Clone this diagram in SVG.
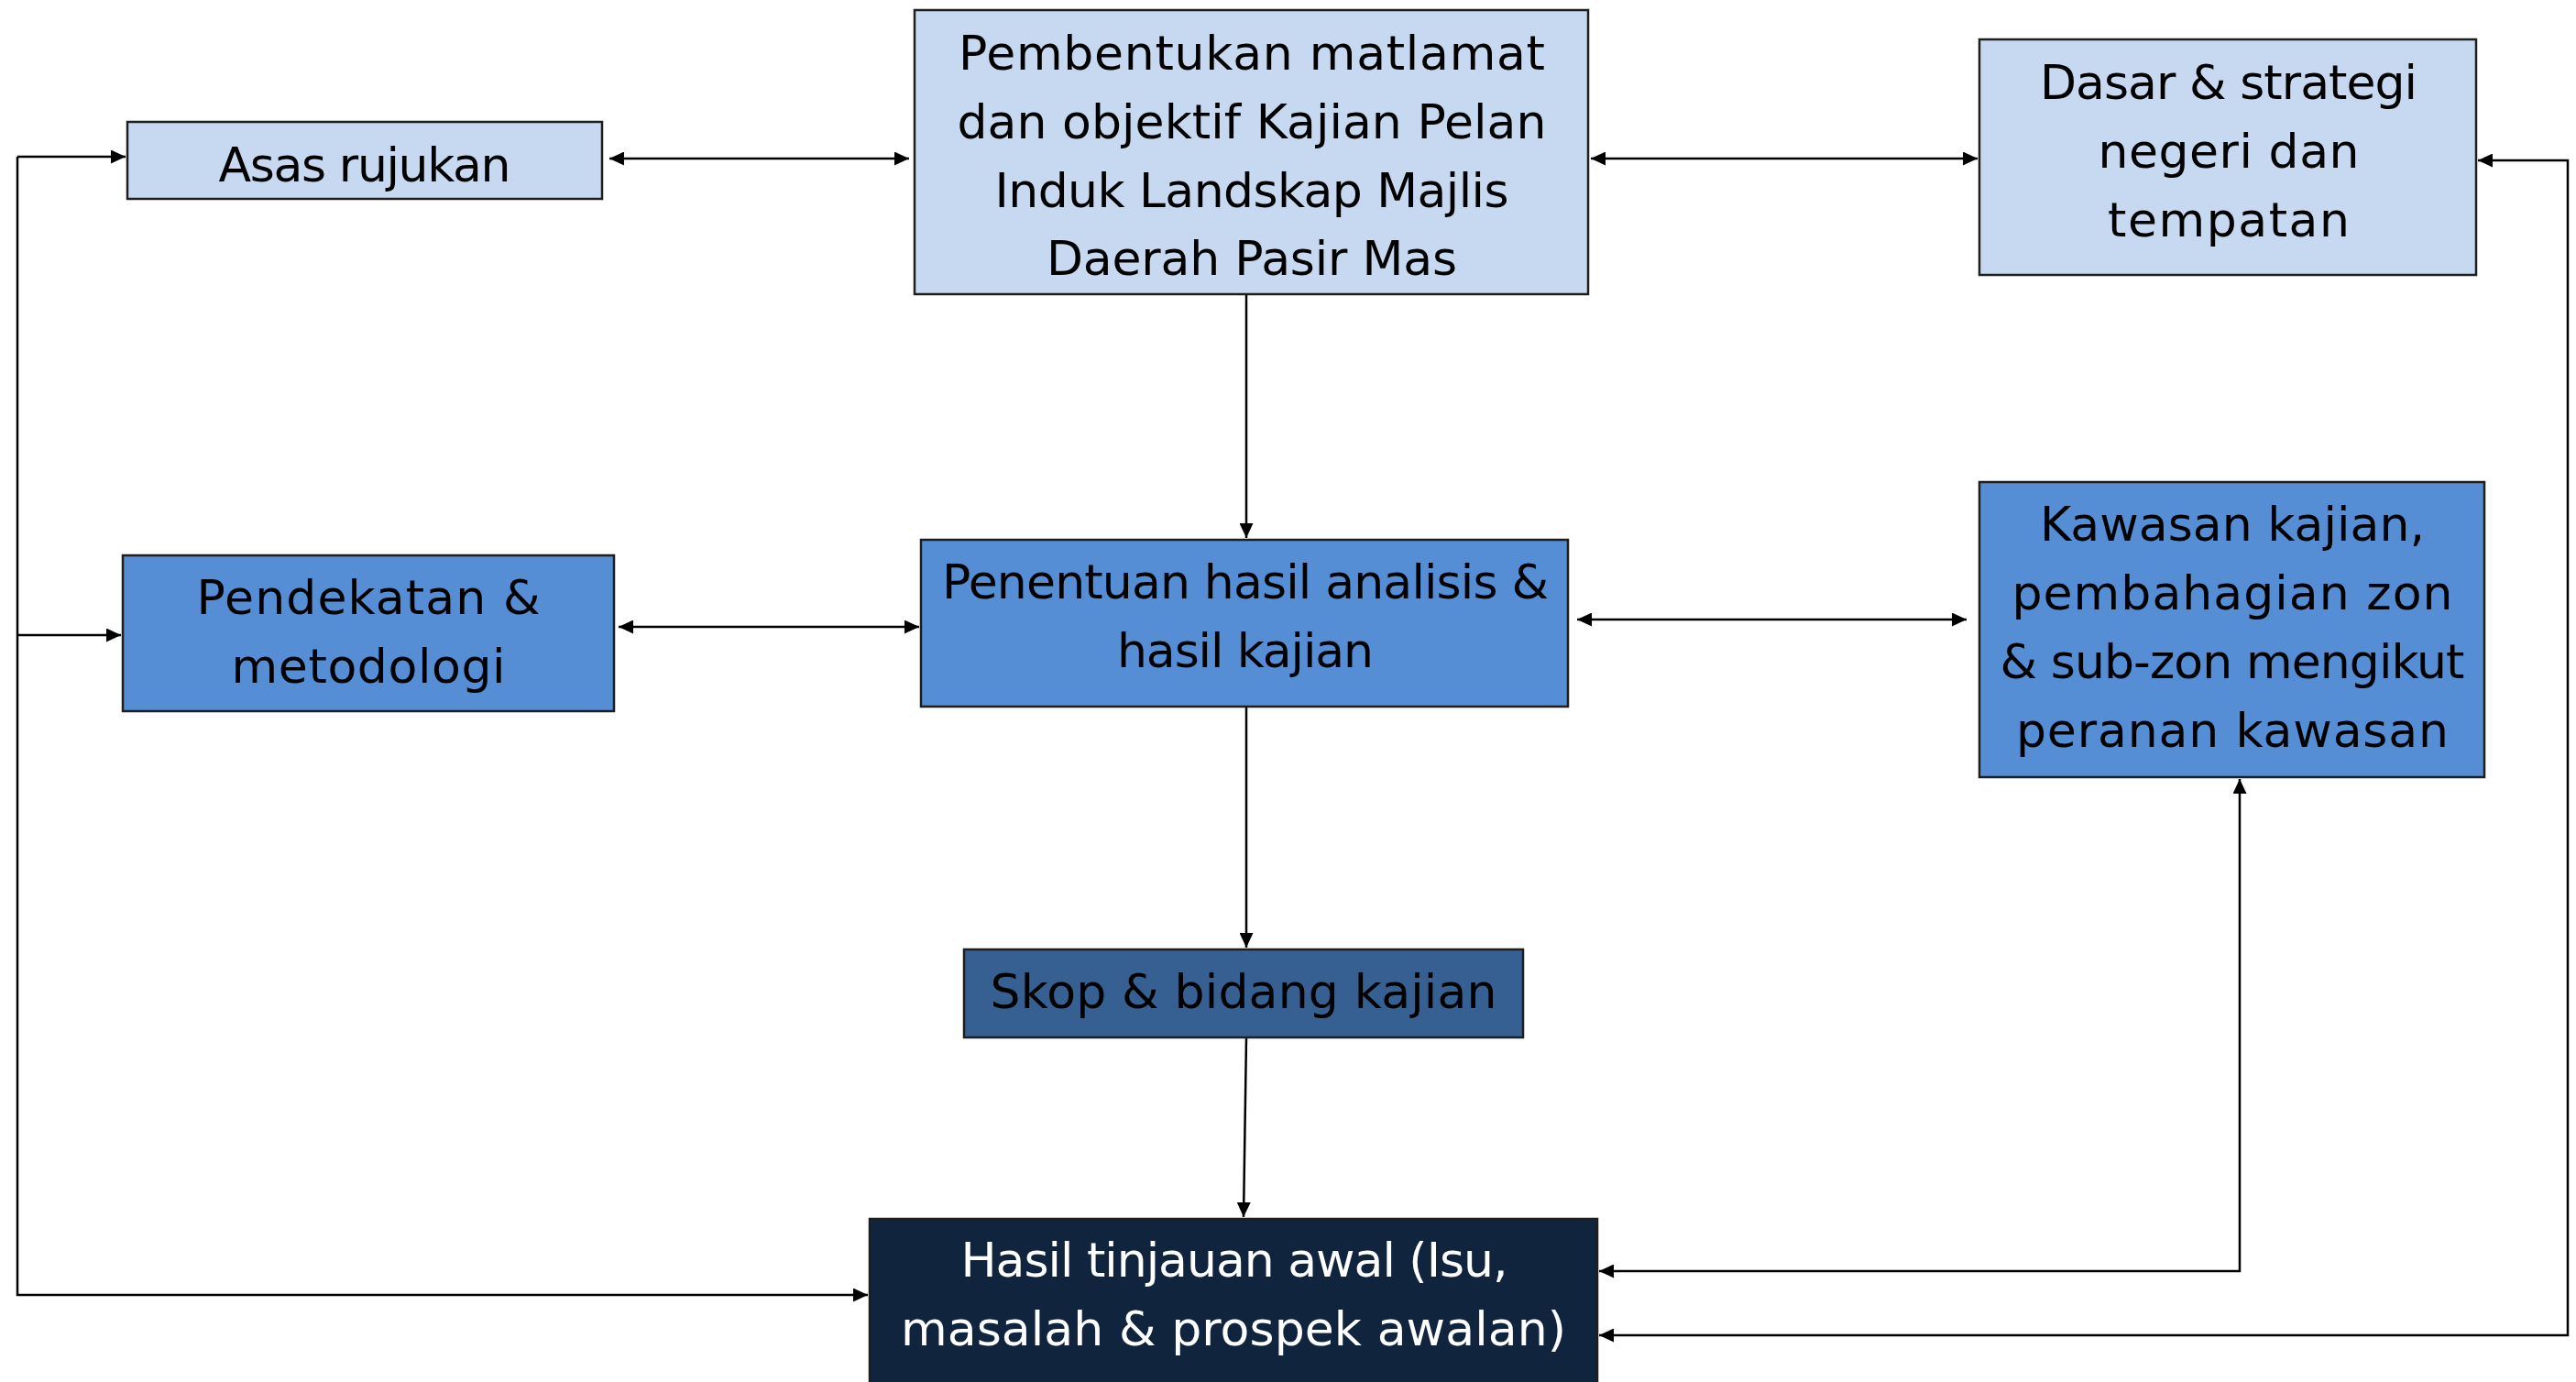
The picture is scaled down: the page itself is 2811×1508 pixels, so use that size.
<svg xmlns="http://www.w3.org/2000/svg" width="2811" height="1508" viewBox="0 0 2811 1508">
<style>
.box{stroke:#1e1e1e;stroke-width:2.5}
.light{fill:#C6D9F1}
.mid{fill:#558ED5}
.skop{fill:#376092}
.dark{fill:#10243E}
text{font-family:"DejaVu Sans","Liberation Sans",sans-serif;font-size:52px;fill:#000;text-anchor:middle}
.w{fill:#fff}
.c{fill:none;stroke:#000;stroke-width:2.5}
</style>
<defs>
<marker id="ah" markerUnits="userSpaceOnUse" markerWidth="16" markerHeight="15" viewBox="0 0 16 15" refX="16" refY="7.5" orient="auto-start-reverse">
<path d="M0,0 L16,7.5 L0,15 z" fill="#000"/>
</marker>
</defs>
<rect width="2811" height="1508" fill="#fff"/>
<g id="connectors">
<path class="c" d="M19,171 H137" marker-end="url(#ah)"/>
<path class="c" d="M19,171 V1413 H947" marker-end="url(#ah)"/>
<path class="c" d="M19,693 H132" marker-end="url(#ah)"/>
<path class="c" d="M665,173 H992" marker-start="url(#ah)" marker-end="url(#ah)"/>
<path class="c" d="M1736,173 H2158" marker-start="url(#ah)" marker-end="url(#ah)"/>
<path class="c" d="M1360,321 V587" marker-end="url(#ah)"/>
<path class="c" d="M675,684 H1003" marker-start="url(#ah)" marker-end="url(#ah)"/>
<path class="c" d="M1721,676 H2146" marker-start="url(#ah)" marker-end="url(#ah)"/>
<path class="c" d="M1360,771 V1034" marker-end="url(#ah)"/>
<path class="c" d="M1360,1132 L1357,1328" marker-end="url(#ah)"/>
<path class="c" d="M1745,1387 H2444 V850" marker-start="url(#ah)" marker-end="url(#ah)"/>
<path class="c" d="M2704,175 H2802 V1457 H1745" marker-start="url(#ah)" marker-end="url(#ah)"/>
</g>
<g id="asas">
<rect class="box light" x="139" y="133" width="518" height="84"/>
<text x="398" y="198" textLength="319">Asas rujukan</text>
</g>
<g id="pembentukan">
<rect class="box light" x="998" y="11" width="735" height="310"/>
<text x="1366" y="76" textLength="640">Pembentukan matlamat</text>
<text x="1366" y="151" textLength="643">dan objektif Kajian Pelan</text>
<text x="1366" y="226" textLength="561">Induk Landskap Majlis</text>
<text x="1366" y="300" textLength="448">Daerah Pasir Mas</text>
</g>
<g id="dasar">
<rect class="box light" x="2160" y="43" width="542" height="257"/>
<text x="2432" y="108" textLength="412">Dasar &amp; strategi</text>
<text x="2432" y="183" textLength="285">negeri dan</text>
<text x="2432" y="258" textLength="264">tempatan</text>
</g>
<g id="pendekatan">
<rect class="box mid" x="134" y="606" width="536" height="170"/>
<text x="402" y="670" textLength="375">Pendekatan &amp;</text>
<text x="402" y="745" textLength="299">metodologi</text>
</g>
<g id="penentuan">
<rect class="box mid" x="1005" y="589" width="706" height="182"/>
<text x="1359" y="653" textLength="662">Penentuan hasil analisis &amp;</text>
<text x="1359" y="728" textLength="280">hasil kajian</text>
</g>
<g id="kawasan">
<rect class="box mid" x="2160" y="526" width="551" height="322"/>
<text x="2436" y="590" textLength="420">Kawasan kajian,</text>
<text x="2436" y="665" textLength="481">pembahagian zon</text>
<text x="2436" y="740" textLength="507">&amp; sub-zon mengikut</text>
<text x="2436" y="815" textLength="472">peranan kawasan</text>
</g>
<g id="skop">
<rect class="box skop" x="1052" y="1036" width="610" height="96"/>
<text x="1357" y="1100" textLength="553">Skop &amp; bidang kajian</text>
</g>
<g id="hasil">
<rect class="box dark" x="949" y="1330" width="794" height="184"/>
<text class="w" x="1347" y="1393" textLength="597">Hasil tinjauan awal (Isu,</text>
<text class="w" x="1346" y="1468" textLength="726">masalah &amp; prospek awalan)</text>
</g>
</svg>
